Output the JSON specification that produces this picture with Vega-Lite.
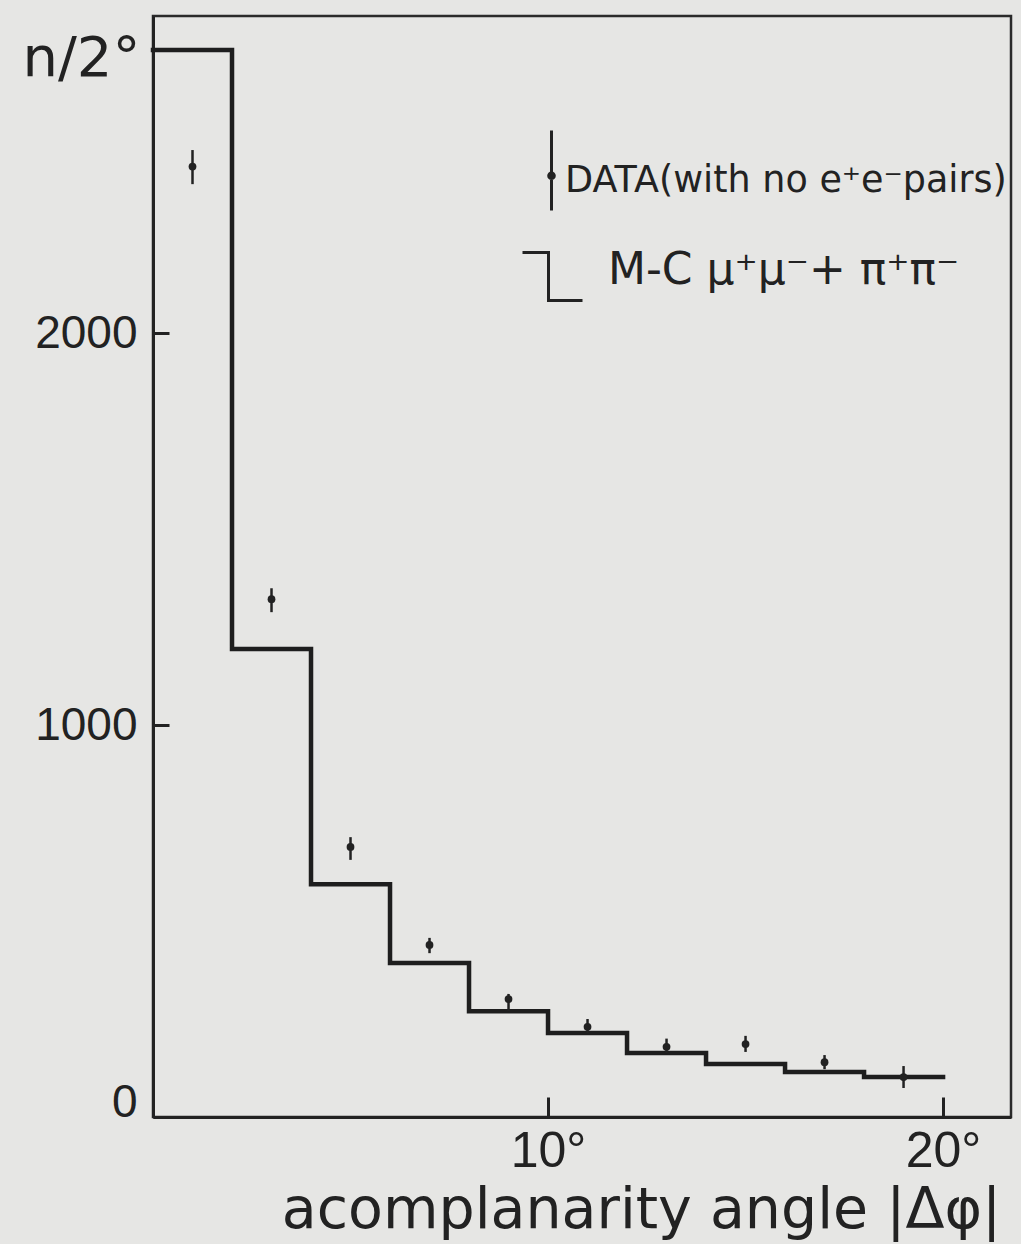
{
  "$schema": "https://vega.github.io/schema/vega-lite/v6.json",
  "autosize": "none",
  "width": 858,
  "height": 1101,
  "padding": {"left": 153, "top": 16, "right": 10, "bottom": 127},
  "background": "#e6e6e4",
  "config": {
    "view": {"stroke": "#2a2a2a", "strokeWidth": 2.5},
    "axis": {
      "grid": false,
      "domainColor": "#222",
      "domainWidth": 3,
      "tickColor": "#222",
      "tickWidth": 3,
      "labelColor": "#222",
      "titleColor": "#222",
      "titleFontWeight": "normal"
    },
    "legend": {"padding": 0, "labelColor": "#222", "labelLimit": 0, "labelFont": "DejaVu Sans"}
  },
  "datasets": {
    "mc": [
      {"angle": 0, "n": 2722, "series": "mc"},
      {"angle": 2, "n": 1194, "series": "mc"},
      {"angle": 4, "n": 594, "series": "mc"},
      {"angle": 6, "n": 393, "series": "mc"},
      {"angle": 8, "n": 270, "series": "mc"},
      {"angle": 10, "n": 214, "series": "mc"},
      {"angle": 12, "n": 163, "series": "mc"},
      {"angle": 14, "n": 135, "series": "mc"},
      {"angle": 16, "n": 115, "series": "mc"},
      {"angle": 18, "n": 102, "series": "mc"},
      {"angle": 20, "n": 102, "series": "mc"}
    ],
    "obs": [
      {"angle": 1, "n": 2425, "lo": 2380, "hi": 2467, "series": "data"},
      {"angle": 3, "n": 1321, "lo": 1288, "hi": 1349, "series": "data"},
      {"angle": 5, "n": 689, "lo": 656, "hi": 714, "series": "data"},
      {"angle": 7, "n": 439, "lo": 418, "hi": 457, "series": "data"},
      {"angle": 9, "n": 301, "lo": 270, "hi": 314, "series": "data"},
      {"angle": 11, "n": 230, "lo": 214, "hi": 250, "series": "data"},
      {"angle": 13, "n": 179, "lo": 163, "hi": 200, "series": "data"},
      {"angle": 15, "n": 186, "lo": 166, "hi": 207, "series": "data"},
      {"angle": 17, "n": 140, "lo": 122, "hi": 158, "series": "data"},
      {"angle": 19, "n": 102, "lo": 74, "hi": 130, "series": "data"}
    ]
  },
  "layer": [
    {
      "data": {"name": "mc"},
      "mark": {"type": "line", "interpolate": "step-after", "color": "#1e1e1e", "strokeWidth": 4.5, "strokeJoin": "miter", "strokeCap": "square"},
      "encoding": {
        "x": {
          "field": "angle", "type": "quantitative",
          "scale": {"domain": [0, 21.72], "nice": false, "zero": false},
          "axis": {
            "values": [10, 20],
            "labelExpr": "datum.value + '°'",
            "labelFlush": false,
            "tickSize": -20,
            "labelPadding": 29,
            "labelFont": "Liberation Sans Narrow, Liberation Sans",
            "labelFontSize": 50,
            "title": "acomplanarity angle |Δφ|",
            "titleFont": "DejaVu Sans",
            "titleFontSize": 57,
            "titleAlign": "center",
            "titleBaseline": "alphabetic",
            "titleX": 488,
            "titleY": 110
          }
        },
        "y": {
          "field": "n", "type": "quantitative",
          "scale": {"domain": [0, 2809], "nice": false},
          "axis": {
            "values": [0, 1000, 2000],
            "format": "d",
            "labelFlush": true,
            "labelFlushOffset": 9,
            "tickSize": -16,
            "labelPadding": 32,
            "labelFont": "Liberation Sans Narrow, Liberation Sans",
            "labelFontSize": 46,
            "title": "n/2°",
            "titleFont": "DejaVu Sans",
            "titleFontSize": 56,
            "titleAngle": 0,
            "titleAlign": "right",
            "titleBaseline": "alphabetic",
            "titleX": -13,
            "titleY": 59
          }
        }
      }
    },
    {
      "data": {"name": "obs"},
      "mark": {"type": "rule", "color": "#222", "strokeWidth": 2.5},
      "encoding": {
        "x": {"field": "angle", "type": "quantitative"},
        "y": {"field": "lo", "type": "quantitative"},
        "y2": {"field": "hi"}
      }
    },
    {
      "data": {"name": "obs"},
      "mark": {"type": "point", "filled": true, "size": 60, "opacity": 1, "color": "#222"},
      "encoding": {
        "x": {"field": "angle", "type": "quantitative"},
        "y": {"field": "n", "type": "quantitative"}
      }
    },
    {
      "data": {"name": "obs"},
      "mark": {"type": "point", "filled": false, "size": 0, "color": "#222", "strokeWidth": 3},
      "encoding": {
        "x": {"field": "angle", "type": "quantitative"},
        "y": {"field": "n", "type": "quantitative"},
        "shape": {
          "field": "series", "type": "nominal",
          "scale": {"domain": ["data"], "range": ["M0,-1.25L0,0.75M-0.07,-0.12A0.07,0.07,0,1,0,0.07,-0.12A0.07,0.07,0,1,0,-0.07,-0.12"]},
          "legend": {
            "orient": "none",
            "legendX": 357,
            "legendY": 123,
            "title": null,
            "symbolSize": 6400,
            "symbolStrokeColor": "#222",
            "symbolStrokeWidth": 3,
            "symbolOpacity": 1,
            "labelOffset": -28,
            "labelFontSize": 36.5,
            "labelExpr": "'DATA(with no e⁺e⁻pairs)'"
          }
        }
      }
    },
    {
      "data": {"name": "mc"},
      "mark": {"type": "point", "filled": false, "size": 0, "color": "#222", "strokeWidth": 3},
      "encoding": {
        "x": {"field": "angle", "type": "quantitative"},
        "y": {"field": "n", "type": "quantitative"},
        "opacity": {
          "field": "series", "type": "nominal",
          "scale": {"domain": ["mc"], "range": [1]},
          "legend": {
            "orient": "none",
            "legendX": 356,
            "legendY": 213,
            "title": null,
            "symbolType": "M-0.7,-0.45L-0.05,-0.45L-0.05,0.75L0.8,0.75",
            "symbolSize": 6400,
            "symbolStrokeColor": "#222",
            "symbolStrokeWidth": 3,
            "symbolFillColor": "transparent",
            "labelOffset": 16,
            "labelFontSize": 44,
            "labelExpr": "'M-C μ⁺μ⁻+ π⁺π⁻'"
          }
        }
      }
    }
  ]
}
